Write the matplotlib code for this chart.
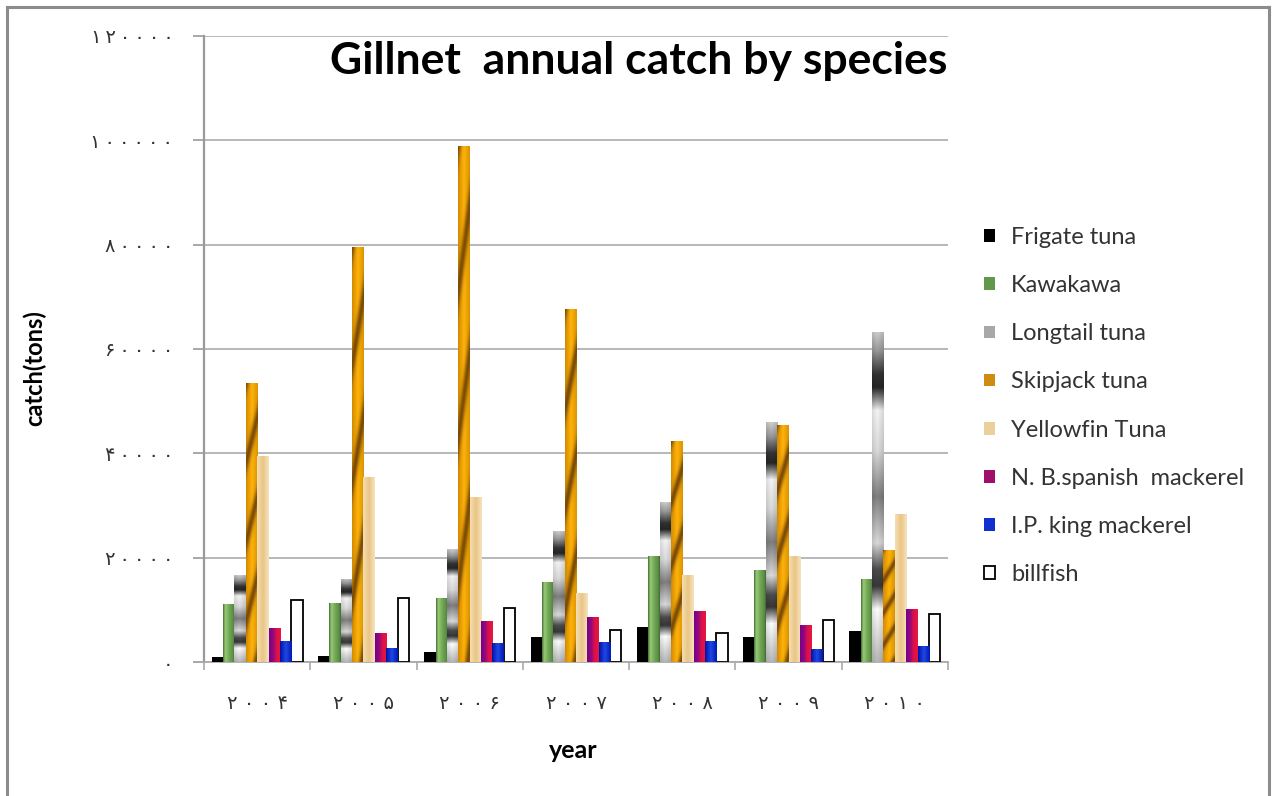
import numpy as np
import matplotlib
matplotlib.use("Agg")
import matplotlib.pyplot as plt
from matplotlib.colors import to_rgb
from matplotlib.lines import Line2D

# ---- data -------------------------------------------------------------
years = [2004, 2005, 2006, 2007, 2008, 2009, 2010]
species = ["Frigate tuna", "Kawakawa", "Longtail tuna", "Skipjack tuna",
           "Yellowfin Tuna", "N. B.spanish  mackerel", "I.P. king mackerel",
           "billfish"]
frigate = [1000, 1100, 1900, 4800, 6700, 4800, 5900]
kawakawa = [11200, 11400, 12200, 15400, 20300, 17600, 16000]
longtail = [16600, 16000, 21600, 25100, 30600, 46000, 63300]
skipjack = [53400, 79500, 99000, 67600, 42300, 45500, 21500]
yellowfin = [39500, 35500, 31600, 13300, 16700, 20300, 28300]
nb_spanish = [6600, 5500, 7800, 8700, 9700, 7100, 10200]
ip_king = [4000, 2700, 3700, 3800, 4100, 2500, 3000]
billfish = [11800, 12200, 10300, 6200, 5600, 8000, 9200]
y_ticks = [0, 20000, 40000, 60000, 80000, 100000, 120000]

series = [frigate, kawakawa, longtail, skipjack, yellowfin,
          nb_spanish, ip_king, billfish]

PERSIAN = str.maketrans("0123456789", "۰۱۲۳۴۵۶۷۸۹")


def fa(n, gap):
    return gap.join(str(n).translate(PERSIAN))


# ---- fills ------------------------------------------------------------
def interp_colors(t, stops):
    pos = [s[0] for s in stops]
    cols = np.array([to_rgb(s[1]) for s in stops])
    return np.stack([np.interp(t, pos, cols[:, c]) for c in range(3)], axis=-1)


def hgrad(stops):
    def build(H, W):
        t = (np.arange(W) + 0.5) / W
        row = interp_colors(t, stops)
        return np.repeat(row[None, :, :], H, axis=0)
    return build


def chrome(H, W):
    t = (np.arange(H) + 0.5) / H
    lv_pos = [0.0, 0.06, 0.13, 0.17, 0.24, 0.36, 0.50, 0.64, 0.72, 0.77,
              0.84, 1.0]
    lv_val = [0.82, 0.60, 0.20, 0.15, 0.96, 0.86, 0.50, 0.86, 0.30, 0.22,
              1.0, 0.72]
    v = np.interp(t, lv_pos, lv_val)
    c = (np.arange(W) + 0.5) / W
    h = 1.0 - 0.12 * np.abs(c - 0.45) * 2
    g = np.clip(v[:, None] * h[None, :], 0, 1)
    return np.repeat(g[:, :, None], 3, axis=2)


def striped(H, W):
    r = (np.arange(H) + 0.5) / H
    c = (np.arange(W) + 0.5) / W
    R, C = np.meshgrid(r, c, indexing="ij")
    phase = R * 3.5 + C * 0.6
    m = (0.5 + 0.5 * np.cos(2 * np.pi * phase)) ** 4
    base = interp_colors(c, [(0, "#d18a00"), (0.5, "#ffb20a"), (1, "#d99400")])
    base = np.broadcast_to(base[None, :, :], (H, W, 3))
    brown = np.array(to_rgb("#7a4a05"))
    return base * (1 - m[..., None]) + brown * m[..., None]


builders = [
    None,
    hgrad([(0, "#3f6a30"), (0.2, "#9acb78"), (0.55, "#6fa552"),
           (0.85, "#5b8f46"), (1, "#3b6430")]),
    chrome,
    striped,
    hgrad([(0, "#f4dfb4"), (0.5, "#eac586"), (1, "#f6e4c0")]),
    hgrad([(0, "#74008f"), (0.4, "#9a0a78"), (0.6, "#d8104c"),
           (1, "#e8173e")]),
    hgrad([(0, "#0010a6"), (0.5, "#2048e4"), (1, "#0018b0")]),
    None,
]
face = ["#000000", "#62984a", "#a8a8a8", "#d08c10", "#ecd09c",
        "#a0106a", "#1030d0", "#ffffff"]
edge = ["none"] * 7 + ["#000000"]


def shade(ax, bars, build):
    for p in bars:
        x0, y0, w, h = p.get_x(), p.get_y(), p.get_width(), p.get_height()
        if h <= 0:
            continue
        (px0, py0), (px1, py1) = ax.transData.transform([(x0, y0),
                                                         (x0 + w, y0 + h)])
        W = max(int(round(px1 - px0)), 2)
        H = max(int(round(py1 - py0)), 2)
        img = build(H, W)
        im = ax.imshow(img, extent=(x0, x0 + w, y0, y0 + h), origin="upper",
                       aspect="auto", interpolation="bilinear",
                       zorder=p.get_zorder() + 0.01)
        im.set_clip_path(p)


# ---- figure -----------------------------------------------------------
W_PX, H_PX = 1273, 796
fig = plt.figure(figsize=(W_PX / 100, H_PX / 100), dpi=100)
ax = fig.add_axes([204 / W_PX, 1 - 662 / H_PX, 744 / W_PX, 626 / H_PX])

ax.set_xlim(-0.5, len(years) - 0.5)
ax.set_ylim(0, 120000)

x = np.arange(len(years))
bw = 0.107
all_bars = []
for i, vals in enumerate(series):
    bars = ax.bar(x + (i - 3.5) * bw, vals, width=bw, color=face[i],
                  edgecolor=edge[i], linewidth=1.3 if i == 7 else 0,
                  label=species[i], zorder=3)
    all_bars.append(bars)

for i, bars in enumerate(all_bars):
    if builders[i] is not None:
        shade(ax, bars, builders[i])

ax.set_xlim(-0.5, len(years) - 0.5)
ax.set_ylim(0, 120000)

# axes styling
grid_c = "#b2b2b2"
ax.set_yticks(y_ticks)
ax.set_yticklabels([fa(v, "\u2009") for v in y_ticks], family="DejaVu Sans",
                   fontsize=14, color="#333333")
ax.yaxis.grid(True, color=grid_c, linewidth=1.3, zorder=0)
ax.set_axisbelow(True)
ax.tick_params(axis="y", direction="out", length=8, width=1.2,
               color="#999999", pad=14)

ax.set_xticks(x)
ax.set_xticklabels([fa(y, " ") for y in years], family="DejaVu Sans",
                   fontsize=14, color="#333333")
ax.set_xticks(np.arange(-0.5, len(years), 1.0), minor=True)
ax.tick_params(axis="x", which="major", length=0, pad=23)
ax.tick_params(axis="x", which="minor", length=6, width=1.2,
               color="#aaaaaa", direction="out")

for s in ("top", "right"):
    ax.spines[s].set_visible(False)
ax.spines["left"].set_color("#999999")
ax.spines["left"].set_linewidth(1.6)
ax.spines["bottom"].set_color("#aaaaaa")
ax.spines["bottom"].set_linewidth(1.3)

# text
fig.text(639 / W_PX, 1 - 61 / H_PX, "Gillnet  annual catch by species",
         ha="center", va="center", fontsize=32, fontweight="bold",
         family="Lato")
fig.text(573 / W_PX, 1 - 750 / H_PX, "year", ha="center", va="center",
         fontsize=18, fontweight="bold", family="Lato")
fig.text(35 / W_PX, 1 - 368 / H_PX, "catch(tons)", ha="center",
         va="center", rotation=90, fontsize=17, fontweight="bold",
         family="Lato")

leg = fig.legend(handles=[b for b in all_bars], labels=species,
                 loc="upper left",
                 bbox_to_anchor=(984 / W_PX, 1 - 227 / H_PX), frameon=False,
                 prop={"family": "Lato", "size": 17}, handlelength=0.45,
                 handleheight=0.45, handletextpad=0.7, labelspacing=1.15,
                 borderaxespad=0, borderpad=0)
for t in leg.get_texts():
    t.set_color("#333333")

# outer chart border
frame_c = "#8c8c8c"
for xs, ys in [((7, 7), (7, 800)), ((7, 1269), (7, 7)),
               ((1269, 1269), (7, 800))]:
    fig.add_artist(Line2D([v / W_PX for v in xs], [1 - v / H_PX for v in ys],
                          color=frame_c, linewidth=2.2))

fig.savefig("out.png", dpi=100)
